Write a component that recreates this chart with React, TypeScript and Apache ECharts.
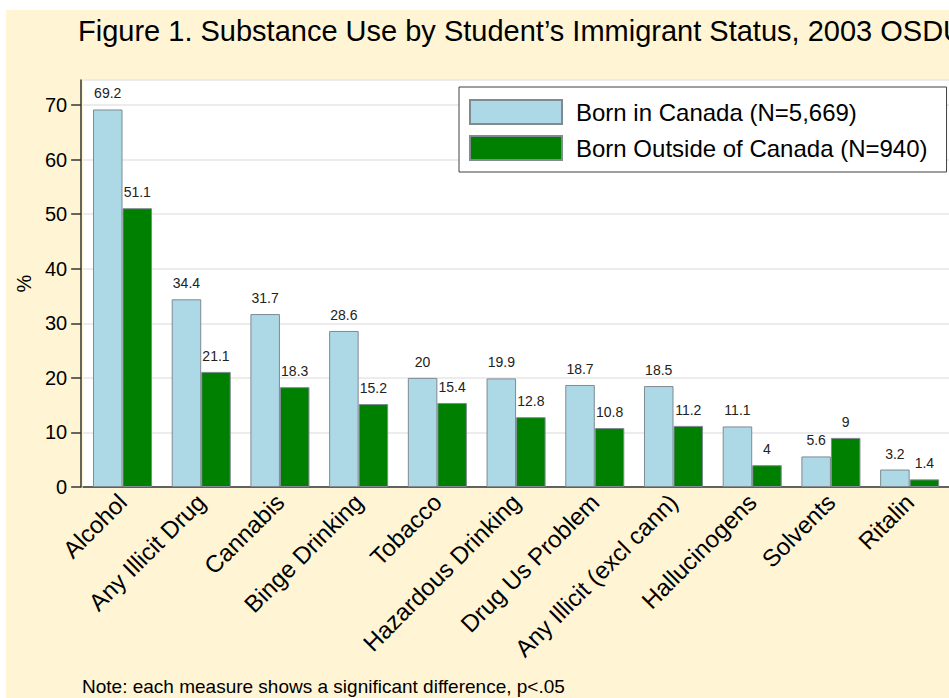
import React, { useEffect, useRef } from "react";
import * as echarts from "echarts";

const categories = [
  "Alcohol",
  "Any Illicit Drug",
  "Cannabis",
  "Binge Drinking",
  "Tobacco",
  "Hazardous Drinking",
  "Drug Us Problem",
  "Any Illicit (excl cann)",
  "Hallucinogens",
  "Solvents",
  "Ritalin",
];
const bornInCanada = [69.2, 34.4, 31.7, 28.6, 20, 19.9, 18.7, 18.5, 11.1, 5.6, 3.2];
const bornOutside = [51.1, 21.1, 18.3, 15.2, 15.4, 12.8, 10.8, 11.2, 4, 9, 1.4];
const seriesNames = ["Born in Canada (N=5,669)", "Born Outside of Canada (N=940)"];
const titleText = "Figure 1. Substance Use by Student\u2019s Immigrant Status, 2003 OSDUS";
const noteText = "Note: each measure shows a significant difference, p<.05";

const FONT = "'Liberation Sans', Arial, sans-serif";

export default function App() {
  const ref = useRef<HTMLDivElement>(null);
  useEffect(() => {
    if (!ref.current) return;
    const chart = echarts.init(ref.current, undefined, { renderer: "svg" });
    const labelCfg = {
      show: true,
      position: "top",
      distance: 9,
      fontSize: 14,
      color: "#222",
      fontFamily: FONT,
    };
    chart.setOption({
      animation: false,
      backgroundColor: "#FFF5D5",
      textStyle: { fontFamily: FONT },
      title: {
        text: titleText,
        left: 72,
        top: 6,
        padding: 0,
        textStyle: { fontSize: 29, fontWeight: "normal", color: "#000", fontFamily: FONT },
      },
      legend: {
        orient: "vertical",
        left: 453,
        top: 77,
        padding: [12, 19, 11, 10],
        itemWidth: 92,
        itemHeight: 24,
        itemGap: 10,
        backgroundColor: "#fff",
        borderColor: "#404040",
        borderWidth: 1,
        borderRadius: 0,
        icon: "rect",
        textStyle: { fontSize: 24, color: "#000", fontFamily: FONT, padding: [0, 0, 0, 9] },
        data: seriesNames,
      },
      grid: {
        left: 74,
        right: -7,
        top: 70,
        bottom: 211,
        show: true,
        backgroundColor: "#fff",
        borderWidth: 0,
        containLabel: false,
      },
      xAxis: {
        type: "category",
        data: categories,
        axisLine: { show: true, lineStyle: { color: "#333", width: 1.5 } },
        axisTick: { show: false },
        axisLabel: {
          rotate: 45,
          fontSize: 24,
          color: "#000",
          margin: 11,
          interval: 0,
          fontFamily: FONT,
        },
      },
      yAxis: {
        type: "value",
        min: 0,
        max: 74.6,
        interval: 10,
        offset: 2,
        name: "%",
        nameLocation: "middle",
        nameRotate: 90,
        nameGap: 42,
        nameTextStyle: { fontSize: 20, color: "#000", fontFamily: FONT },
        axisLine: { show: true, lineStyle: { color: "#333", width: 1.5 } },
        axisTick: { show: true, length: 10, lineStyle: { color: "#333", width: 1.5 } },
        axisLabel: {
          fontSize: 20,
          color: "#000",
          margin: 14,
          showMaxLabel: false,
          fontFamily: FONT,
          formatter: (v: number) => (v % 10 === 0 ? String(v) : ""),
        },
        splitLine: { show: true, lineStyle: { color: "#e6e6e6", width: 1.5 } },
      },
      series: [
        {
          name: seriesNames[0],
          type: "bar",
          data: bornInCanada,
          barGap: "0%",
          barCategoryGap: "25%",
          itemStyle: { color: "#ADD8E6", borderColor: "#7f8a92", borderWidth: 1 },
          label: labelCfg,
        },
        {
          name: seriesNames[1],
          type: "bar",
          data: bornOutside,
          barGap: "0%",
          barCategoryGap: "25%",
          itemStyle: { color: "#008000", borderColor: "#7f8a92", borderWidth: 1 },
          label: labelCfg,
        },
      ],
      graphic: [
        {
          type: "text",
          left: 76,
          top: 667,
          style: {
            text: noteText,
            fill: "#000",
            font: `19px ${FONT}`,
          },
        },
      ],
    });
    return () => chart.dispose();
  }, []);
  return (
    <div
      style={{
        position: "fixed",
        left: 0,
        top: 0,
        width: 949,
        height: 698,
        background: "#fff",
        overflow: "hidden",
      }}
    >
      <div
        ref={ref}
        style={{ position: "absolute", left: 6, top: 10, width: 943, height: 688 }}
      />
    </div>
  );
}
